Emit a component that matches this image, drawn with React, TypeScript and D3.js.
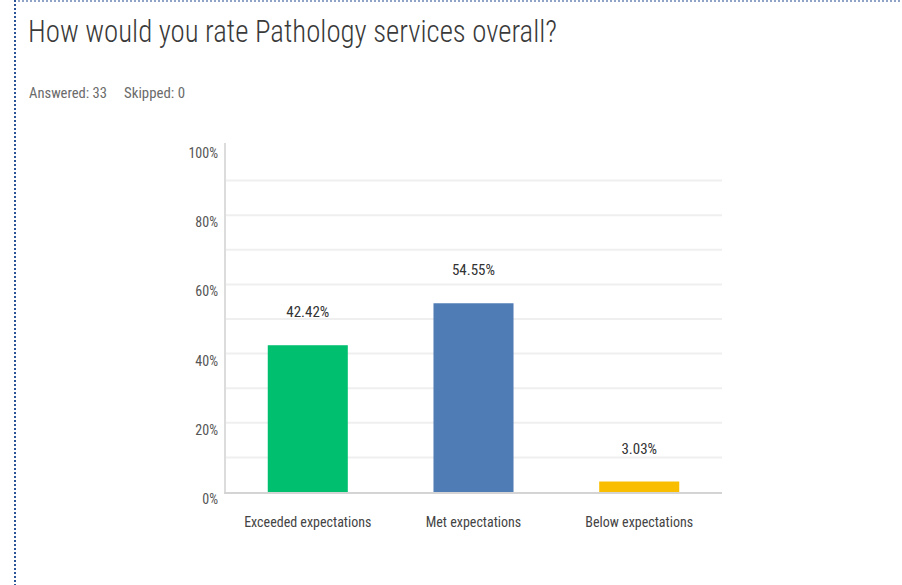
import React, { useEffect, useRef } from 'react';
import * as d3 from 'd3';

const categories = ['Exceeded expectations', 'Met expectations', 'Below expectations'];
const percents = [42.42, 54.55, 3.03];
const barColors = ['#00BF6F', '#507CB6', '#F9BE00'];
const yTicks = [0, 20, 40, 60, 80, 100];
const gridTicks = [10, 20, 30, 40, 50, 60, 70, 80, 90];

const FONT = '"Liberation Sans Narrow", "Roboto Condensed", "Arial Narrow", sans-serif';

const App: React.FC = () => {
    const ref = useRef<SVGSVGElement | null>(null);

    useEffect(() => {
        if (!ref.current) return;
        const svg = d3.select(ref.current);
        svg.selectAll('*').remove();

        const width = 902;
        const height = 585;
        const plot = { left: 225, right: 722, top: 146, bottom: 492 };

        svg.append('rect').attr('width', width).attr('height', height).attr('fill', '#fff');

        // dotted frame
        svg.append('line')
            .attr('x1', 14).attr('x2', width).attr('y1', 1).attr('y2', 1)
            .attr('stroke', '#8fa3c7').attr('stroke-width', 2).attr('stroke-dasharray', '2,2');
        svg.append('line')
            .attr('x1', 15).attr('x2', 15).attr('y1', 0).attr('y2', height)
            .attr('stroke', '#2c5597').attr('stroke-width', 2).attr('stroke-dasharray', '2,2');

        svg.append('text')
            .attr('x', 28).attr('y', 42)
            .attr('font-family', FONT).attr('font-size', 32).attr('font-weight', 300)
            .attr('fill', '#3a3a3a')
            .attr('textLength', 529).attr('lengthAdjust', 'spacingAndGlyphs')
            .text('How would you rate Pathology services overall?');

        svg.append('text')
            .attr('x', 29).attr('y', 98)
            .attr('font-family', FONT).attr('font-size', 14)
            .attr('fill', '#6b6b6b')
            .attr('textLength', 78).attr('lengthAdjust', 'spacingAndGlyphs')
            .text('Answered: 33');
        svg.append('text')
            .attr('x', 124).attr('y', 98)
            .attr('font-family', FONT).attr('font-size', 14)
            .attr('fill', '#6b6b6b')
            .attr('textLength', 61).attr('lengthAdjust', 'spacingAndGlyphs')
            .text('Skipped: 0');

        const x = d3.scaleBand<string>()
            .domain(categories)
            .range([plot.left, plot.right])
            .paddingInner(0.517)
            .paddingOuter(0.258);

        const y = d3.scaleLinear().domain([0, 100]).range([plot.bottom, plot.top]);

        const g = svg.append('g');

        g.selectAll('.grid')
            .data(gridTicks)
            .enter()
            .append('line')
            .attr('class', 'grid')
            .attr('x1', plot.left).attr('x2', plot.right)
            .attr('y1', (d) => y(d)).attr('y2', (d) => y(d))
            .attr('stroke', '#efefef').attr('stroke-width', 2);

        g.append('line')
            .attr('x1', plot.left).attr('x2', plot.left)
            .attr('y1', plot.top - 3).attr('y2', plot.bottom)
            .attr('stroke', '#dcdcdc').attr('stroke-width', 2);

        g.selectAll('.ytick')
            .data(yTicks)
            .enter()
            .append('text')
            .attr('class', 'ytick')
            .attr('x', 218).attr('y', (d) => y(d) + 12)
            .attr('text-anchor', 'end')
            .attr('font-family', FONT).attr('font-size', 14)
            .attr('fill', '#555')
            .text((d) => `${d}%`);

        g.selectAll('.bar')
            .data(percents)
            .enter()
            .append('rect')
            .attr('class', 'bar')
            .attr('x', (_d, i) => x(categories[i]) as number)
            .attr('y', (d) => y(d))
            .attr('width', x.bandwidth())
            .attr('height', (d) => plot.bottom - y(d))
            .attr('fill', (_d, i) => barColors[i]);

        g.append('line')
            .attr('x1', plot.left - 1).attr('x2', plot.right)
            .attr('y1', plot.bottom + 1).attr('y2', plot.bottom + 1)
            .attr('stroke', '#d4d4d4').attr('stroke-width', 2);

        g.selectAll('.val')
            .data(percents)
            .enter()
            .append('text')
            .attr('class', 'val')
            .attr('x', (_d, i) => (x(categories[i]) as number) + x.bandwidth() / 2)
            .attr('y', (d) => y(d) - 28)
            .attr('text-anchor', 'middle')
            .attr('font-family', FONT).attr('font-size', 15)
            .attr('fill', '#333')
            .text((d) => `${d.toFixed(2)}%`);

        g.selectAll('.cat')
            .data(categories)
            .enter()
            .append('text')
            .attr('class', 'cat')
            .attr('x', (d) => (x(d) as number) + x.bandwidth() / 2)
            .attr('y', 527)
            .attr('text-anchor', 'middle')
            .attr('font-family', FONT).attr('font-size', 14)
            .attr('fill', '#444')
            .text((d) => d);
    }, []);

    return (
        <svg
            ref={ref}
            width={902}
            height={585}
            style={{ position: 'absolute', left: 0, top: 0, display: 'block' }}
        />
    );
};

export default App;
